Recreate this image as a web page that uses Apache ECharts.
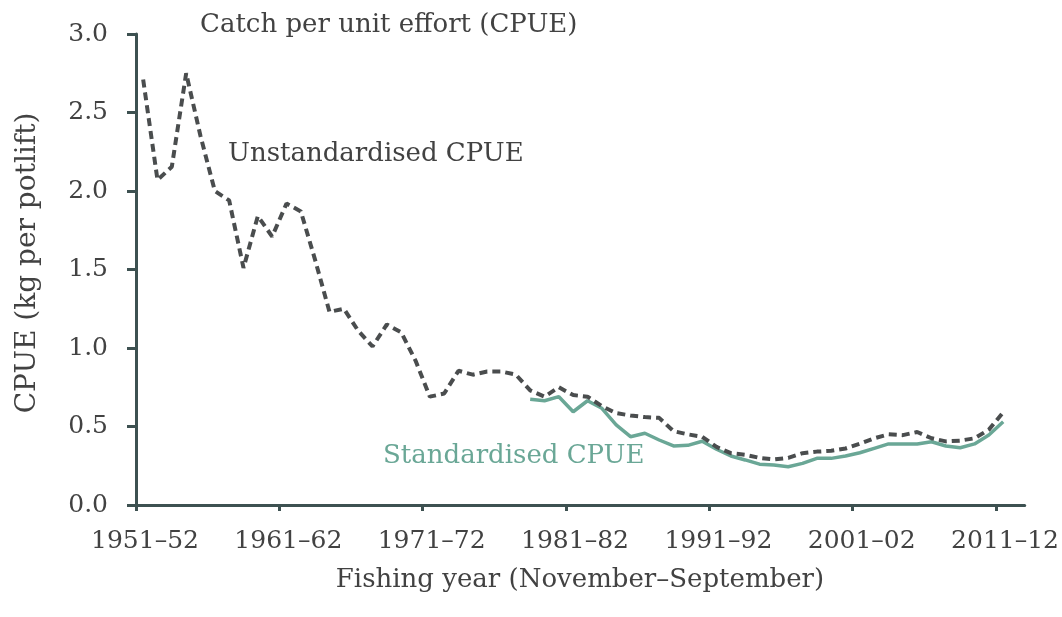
<!DOCTYPE html>
<html>
<head>
<meta charset="utf-8">
<script src="https://cdn.jsdelivr.net/npm/echarts@6/dist/echarts.min.js"></script>
<style>
html,body{margin:0;padding:0;background:#fff;}
#chart{width:1062px;height:617px;}
</style>
</head>
<body>
<div id="chart"></div>
<script>
// Fishing years (start year of each November–September season)
var fishingYears = [1951,1952,1953,1954,1955,1956,1957,1958,1959,1960,
  1961,1962,1963,1964,1965,1966,1967,1968,1969,1970,
  1971,1972,1973,1974,1975,1976,1977,1978,1979,1980,
  1981,1982,1983,1984,1985,1986,1987,1988,1989,1990,
  1991,1992,1993,1994,1995,1996,1997,1998,1999,2000,
  2001,2002,2003,2004,2005,2006,2007,2008,2009,2010,2011];

var unstandardised = [2.71,2.07,2.155,2.75,2.35,2.00,1.94,1.51,1.84,1.71,
  1.92,1.87,1.56,1.23,1.25,1.11,1.01,1.15,1.10,0.92,
  0.69,0.71,0.855,0.83,0.85,0.85,0.83,0.73,0.69,0.75,
  0.70,0.69,0.63,0.585,0.57,0.56,0.555,0.47,0.45,0.435,
  0.37,0.33,0.32,0.30,0.29,0.30,0.33,0.34,0.345,0.36,
  0.39,0.425,0.45,0.445,0.465,0.425,0.405,0.41,0.425,0.48,0.59];

var standardisedYears = [1978,1979,1980,1981,1982,1983,1984,1985,1986,1987,
  1988,1989,1990,1991,1992,1993,1994,1995,1996,1997,
  1998,1999,2000,2001,2002,2003,2004,2005,2006,2007,
  2008,2009,2010,2011];
var standardised = [0.673,0.664,0.69,0.594,0.664,0.616,0.51,0.435,0.457,0.414,
  0.376,0.38,0.406,0.355,0.312,0.287,0.26,0.255,0.244,0.265,
  0.297,0.297,0.312,0.333,0.361,0.389,0.389,0.389,0.403,0.376,
  0.365,0.389,0.446,0.53];

var xTickYears = [1951,1961,1971,1981,1991,2001,2011];
var yTicks = [0,0.5,1.0,1.5,2.0,2.5,3.0];

function seasonLabel(y){
  var n = (y + 1) % 100;
  return y + '\u2013' + (n < 10 ? '0' + n : '' + n);
}
// each season plotted at the middle of its fishing year
function pairs(years, vals){
  return years.map(function(y,i){ return [y + 0.5, vals[i]]; });
}

var FONT = 'DejaVu Serif';
var TXT = '#424242';
var AX = '#3d5151';
var GREEN = '#6aa796';

var chart = echarts.init(document.getElementById('chart'), null, {renderer:'canvas'});
chart.setOption({
  backgroundColor:'#ffffff',
  animation:false,
  grid:{left:136, right:34, top:34, bottom:112, containLabel:false},
  xAxis:{
    type:'value', min:xTickYears[0], max:2013, interval:10,
    axisLine:{show:true, onZero:false, lineStyle:{color:AX, width:3}},
    axisTick:{show:true, length:6, lineStyle:{color:AX, width:3}},
    splitLine:{show:false},
    axisLabel:{
      color:TXT, fontFamily:FONT, fontSize:25, margin:24,
      padding:[0,0,0,18],
      showMaxLabel:false,
      formatter:function(v){ return xTickYears.indexOf(v) >= 0 ? seasonLabel(v) : ''; }
    }
  },
  yAxis:{
    type:'value', min:yTicks[0], max:yTicks[yTicks.length-1], interval:0.5,
    axisLine:{show:true, lineStyle:{color:AX, width:3}},
    axisTick:{show:true, length:9, lineStyle:{color:AX, width:3}},
    splitLine:{show:false},
    axisLabel:{color:TXT, fontFamily:FONT, fontSize:25, margin:28,
      formatter:function(v){ return v.toFixed(1); }}
  },
  series:[
    {
      name:'Standardised CPUE', type:'line', data:pairs(standardisedYears, standardised),
      showSymbol:false, symbol:'none', z:2,
      lineStyle:{color:GREEN, width:3.5}
    },
    {
      name:'Unstandardised CPUE', type:'line', data:pairs(fishingYears, unstandardised),
      showSymbol:false, symbol:'none', z:3,
      lineStyle:{color:'#4a4d4e', width:4, type:[8,5]}
    }
  ],
  graphic:[
    {type:'text', x:200, y:25, style:{text:'Catch per unit effort (CPUE)', fill:TXT, font:'26px "DejaVu Serif"', verticalAlign:'middle'}},
    {type:'text', x:228, y:154, style:{text:'Unstandardised CPUE', fill:TXT, font:'26px "DejaVu Serif"', verticalAlign:'middle'}},
    {type:'text', x:383, y:456, style:{text:'Standardised CPUE', fill:GREEN, font:'26px "DejaVu Serif"', verticalAlign:'middle'}},
    {type:'text', x:580, y:580, style:{text:'Fishing year (November\u2013September)', fill:TXT, font:'26px "DejaVu Serif"', align:'center', verticalAlign:'middle'}},
    {type:'text', x:28, y:263, rotation:Math.PI/2, style:{text:'CPUE (kg per potlift)', fill:TXT, font:'28px "DejaVu Serif"', align:'center', verticalAlign:'middle'}}
  ]
});
</script>
</body>
</html>
